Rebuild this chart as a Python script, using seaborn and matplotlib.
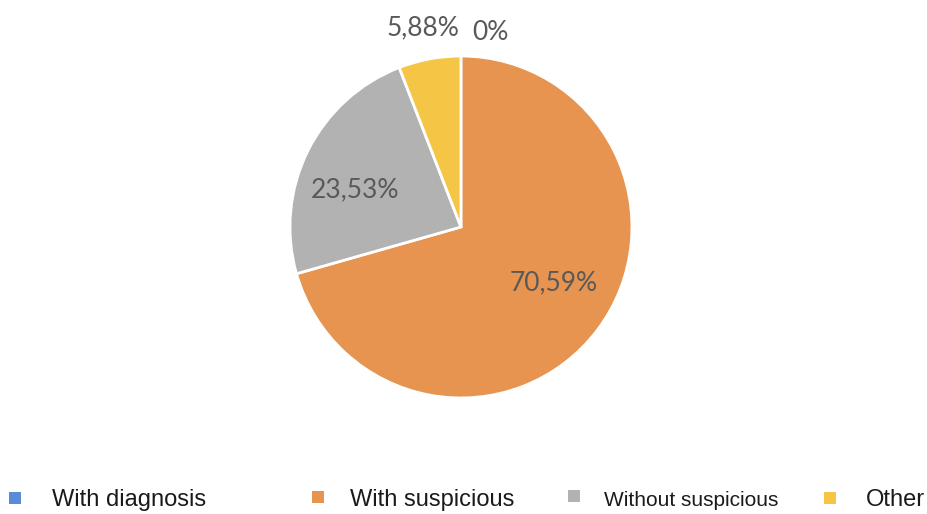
import matplotlib
matplotlib.use("Agg")
import matplotlib.pyplot as plt
from matplotlib.patches import Rectangle
import seaborn as sns

sns.set_theme(style="white")
plt.rcParams["font.family"] = ["Lato", "DejaVu Sans"]

categories = ["With diagnosis", "With suspicious", "Without suspicious", "Other"]
values = [0.0, 70.59, 23.53, 5.88]
colors = ["#5B8BD6", "#E6944F", "#B2B2B2", "#F5C645"]
legend_sizes = [17, 17, 15, 17]

def fmt(p):
    if p == 0:
        return "0%"
    return f"{p:.2f}".replace(".", ",") + "%"

fig = plt.figure(figsize=(9.27, 5.14), dpi=100)
ax = fig.add_axes([0.3128, 0.2257, 0.3689, 0.6654])

wedges, texts, autotexts = ax.pie(
    values,
    colors=colors,
    startangle=90,
    counterclock=False,
    autopct=lambda p: fmt(round(p, 2)),
    pctdistance=0.65,
    wedgeprops=dict(edgecolor="white", linewidth=2),
    textprops=dict(color="#595959", fontsize=19),
)
ax.set_xlim(-1, 1)
ax.set_ylim(-1, 1)
ax.set_aspect("equal")
ax.axis("off")

# label placement: small slices pulled outside the rim
label_pos = [(0.17, 1.14), (0.544, -0.327), (-0.62, 0.216), (-0.22, 1.165)]
for t, pos in zip(autotexts, label_pos):
    t.set_position(pos)

# bottom legend row
W, H = 927, 514
marker_xy = [(15, 498), (318, 497), (574, 496), (830, 498)]
xs_text = [52, 350, 604, 866]
ys_text = [500, 500, 501, 500]
for i, cat in enumerate(categories):
    mx, my = marker_xy[i]
    fig.patches.append(Rectangle(((mx - 6) / W, 1 - (my + 6) / H), 12 / W, 12 / H,
                                 transform=fig.transFigure, facecolor=colors[i],
                                 edgecolor="none"))
    fig.text(xs_text[i] / W, 1 - ys_text[i] / H, cat, fontsize=legend_sizes[i],
             family=["Liberation Sans", "DejaVu Sans"], color="#1a1a1a",
             ha="left", va="center")

fig.savefig("out.png", dpi=100, facecolor="white")
